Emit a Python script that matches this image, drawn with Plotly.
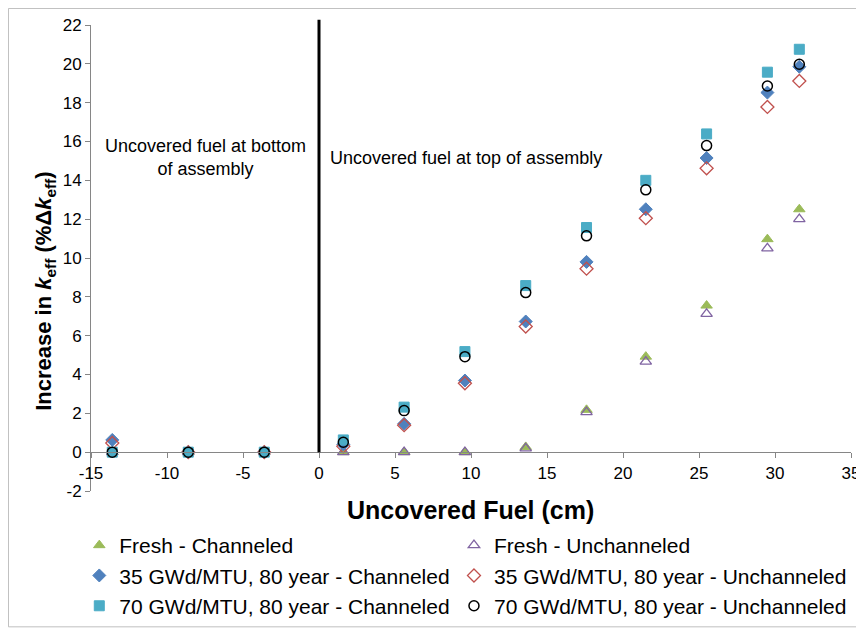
import plotly.graph_objects as go

x_cm = [-13.6, -8.6, -3.6, 1.6, 5.6, 9.6, 13.6, 17.6, 21.5, 25.5, 29.5, 31.6]

fresh_ch = [0, 0, 0, 0, 0, 0, 0.27, 2.18, 4.92, 7.55, 10.97, 12.51]
fresh_unch = [0, 0, 0, 0, 0, 0, 0.2, 2.06, 4.66, 7.12, 10.5, 12.0]
gwd35_ch = [0.63, 0, 0, 0.4, 1.46, 3.69, 6.73, 9.8, 12.51, 15.15, 18.52, 19.85]
gwd35_unch = [0.47, 0, 0, 0.3, 1.39, 3.55, 6.47, 9.45, 12.05, 14.62, 17.78, 19.12]
gwd70_ch = [0, 0, 0, 0.63, 2.32, 5.18, 8.58, 11.57, 14.0, 16.39, 19.57, 20.75]
gwd70_unch = [0, 0, 0, 0.51, 2.14, 4.92, 8.22, 11.14, 13.51, 15.79, 18.86, 19.98]

x_tickvals = [-15, -10, -5, 0, 5, 10, 15, 20, 25, 30, 35]
x_ticktext = ["-15", "-10", "-5", "0", "5", "10", "15", "20", "25", "30", "35"]
y_tickvals = [-2, 0, 2, 4, 6, 8, 10, 12, 14, 16, 18, 20, 22]
y_ticktext = ["-2", "0", "2", "4", "6", "8", "10", "12", "14", "16", "18", "20", "22"]

series = [
    ("Fresh - Channeled", fresh_ch, "triangle-up", "#9BBB59", "#9BBB59", 1, "legend"),
    ("Fresh - Unchanneled", fresh_unch, "triangle-up-open", "#8064A2", "#8064A2", 1.3, "legend2"),
    ("35 GWd/MTU, 80 year - Channeled", gwd35_ch, "diamond", "#4F81BD", "#4F81BD", 1, "legend"),
    ("35 GWd/MTU, 80 year - Unchanneled", gwd35_unch, "diamond-open", "#C0504D", "#C0504D", 1.3, "legend2"),
    ("70 GWd/MTU, 80 year - Channeled", gwd70_ch, "square", "#4BACC6", "#4BACC6", 1, "legend"),
    ("70 GWd/MTU, 80 year - Unchanneled", gwd70_unch, "circle-open", "#000000", "#000000", 1.5, "legend2"),
]

fig = go.Figure()
for name, ys, sym, col, lcol, lw, leg in series:
    fig.add_trace(go.Scatter(
        x=x_cm, y=ys, mode="markers", name=name, legend=leg,
        marker=dict(symbol=sym, size=10, color=col, line=dict(color=lcol, width=lw)),
        cliponaxis=False,
    ))

FONT = "Liberation Sans, Arial, sans-serif"
legend_common = dict(
    orientation="v", yanchor="top", xanchor="left",
    font=dict(size=21, family=FONT), itemwidth=30,
    bgcolor="rgba(0,0,0,0)", tracegroupgap=0,
)

fig.update_layout(
    width=856, height=622,
    margin=dict(l=83, r=13, t=17, b=139, autoexpand=False),
    paper_bgcolor="white", plot_bgcolor="white",
    font=dict(family=FONT, color="black", size=17),
    showlegend=True,
    legend=dict(x=-0.0154, y=-0.073, **legend_common),
    legend2=dict(x=0.4776, y=-0.073, **legend_common),
    xaxis=dict(
        range=[-15, 35], tickvals=x_tickvals, ticktext=x_ticktext,
        showgrid=False, zeroline=False,
        showline=True, linecolor="#868686", linewidth=1,
        ticks="outside", ticklen=5, tickcolor="#868686",
        anchor="free", position=2 / 24,
        tickfont=dict(size=17),
    ),
    yaxis=dict(
        range=[-2, 22], tickvals=y_tickvals, ticktext=y_ticktext,
        showgrid=False, zeroline=False,
        showline=True, linecolor="#868686", linewidth=1,
        ticks="outside", ticklen=5, tickcolor="#868686",
        tickfont=dict(size=17),
    ),
)

fig.add_shape(type="line", xref="x", yref="paper", x0=0, x1=0, y0=2 / 24, y1=1.011,
              line=dict(color="black", width=3))

fig.add_shape(type="rect", xref="paper", yref="paper",
              x0=-0.1086, x1=1.0132, y0=-0.2915, y1=1.0355,
              line=dict(color="#BFBFBF", width=1), layer="below")

fig.add_annotation(xref="x", yref="y", x=-7.5, y=15.17,
                   text="Uncovered fuel at bottom<br>of assembly",
                   xanchor="center", yanchor="middle",
                   showarrow=False, align="center", font=dict(size=18))
fig.add_annotation(xref="x", yref="y", x=0.57, y=15.17, xanchor="left", yanchor="middle",
                   text="Uncovered fuel at top of assembly",
                   showarrow=False, align="left", font=dict(size=18))

fig.add_annotation(xref="paper", yref="paper", x=0.499, y=-0.041,
                   xanchor="center", yanchor="middle",
                   text="<b>Uncovered Fuel (cm)</b>", showarrow=False,
                   font=dict(size=25))
fig.add_annotation(xref="paper", yref="paper", x=-0.0605, y=0.4275,
                   xanchor="center", yanchor="middle",
                   text="<b>Increase in <i>k</i><sub>eff</sub> (%Δ<i>k</i><sub>eff</sub>)</b>",
                   textangle=-90, showarrow=False, font=dict(size=22))

fig.write_html("out.html")
